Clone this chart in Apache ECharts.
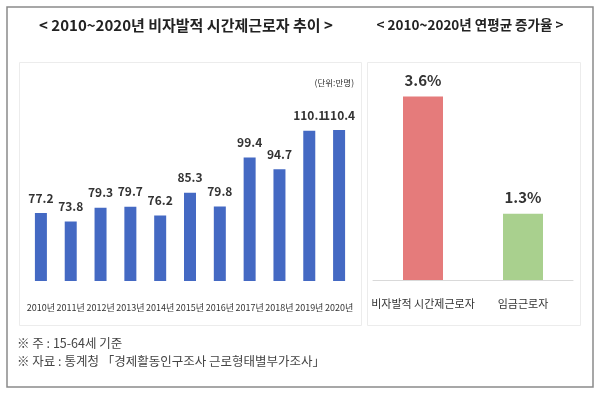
<!DOCTYPE html>
<html><head><meta charset="utf-8">
<script src="https://cdn.jsdelivr.net/npm/echarts@6/dist/echarts.min.js"></script>
<style>html,body{margin:0;padding:0;background:#fff}#c{width:600px;height:394px}</style>
</head><body><div id="c"></div>
<script>
const years = ['2010년','2011년','2012년','2013년','2014년','2015년','2016년','2017년','2018년','2019년','2020년'];
const workers = [77.2, 73.8, 79.3, 79.7, 76.2, 85.3, 79.8, 99.4, 94.7, 110.1, 110.4];
const groups = ['비자발적 시간제근로자', '임금근로자'];
const growth = [3.6, 1.3];
const growthColors = ['#E57B7B', '#A9D08E'];

const KR = "'Noto Sans CJK KR', 'Noto Sans', sans-serif";

const chart = echarts.init(document.getElementById('c'), null, {renderer: 'canvas'});
chart.setOption({
  animation: false,
  backgroundColor: '#fff',
  graphic: [
    {type: 'rect', shape: {x: 7, y: 7, width: 586, height: 380}, style: {fill: 'none', stroke: '#8a8a8a', lineWidth: 1.5}, z: -10},
    {type: 'rect', shape: {x: 19.5, y: 62.5, width: 342, height: 263}, style: {fill: 'none', stroke: '#ececec', lineWidth: 1}, z: -10},
    {type: 'rect', shape: {x: 367.5, y: 62.5, width: 213, height: 263}, style: {fill: 'none', stroke: '#ececec', lineWidth: 1}, z: -10},
    {type: 'text', x: 186, y: 25, style: {text: '< 2010~2020년 비자발적 시간제근로자 추이 >', font: 'bold 15px ' + KR, fill: '#222', textAlign: 'center', textVerticalAlign: 'middle'}},
    {type: 'text', x: 470, y: 25, style: {text: '< 2010~2020년 연평균 증가율 >', font: 'bold 13.5px ' + KR, fill: '#222', textAlign: 'center', textVerticalAlign: 'middle'}},
    {type: 'text', x: 354, y: 83, style: {text: '(단위:만명)', font: '8.5px ' + KR, fill: '#333', textAlign: 'right', textVerticalAlign: 'middle'}},
    {type: 'text', x: 17, y: 343, style: {text: '※ 주 : 15-64세 기준', font: '12.5px ' + KR, fill: '#444', textVerticalAlign: 'middle'}},
    {type: 'text', x: 17, y: 361, style: {text: '※ 자료 : 통계청 「경제활동인구조사 근로형태별부가조사」', font: '12.5px ' + KR, fill: '#444', textVerticalAlign: 'middle'}}
  ],
  grid: [
    {left: 26, width: 328, top: 81, height: 200},
    {left: 373, width: 200, top: 76, height: 204}
  ],
  xAxis: [
    {type: 'category', gridIndex: 0, data: years,
     axisLine: {show: false}, axisTick: {show: false},
     axisLabel: {interval: 0, margin: 22, fontSize: 9, color: '#333', fontFamily: KR}},
    {type: 'category', gridIndex: 1, data: groups,
     axisLine: {show: true, lineStyle: {color: '#d9d9d9', width: 1}}, axisTick: {show: false},
     axisLabel: {interval: 0, margin: 18, fontSize: 11, color: '#333', fontFamily: KR}}
  ],
  yAxis: [
    {type: 'value', gridIndex: 0, min: 50, max: 130, show: false, splitLine: {show: false}},
    {type: 'value', gridIndex: 1, min: 0, max: 4, show: false, splitLine: {show: false}}
  ],
  series: [
    {type: 'bar', xAxisIndex: 0, yAxisIndex: 0, data: workers, barWidth: 12,
     itemStyle: {color: '#4469C3'},
     label: {show: true, position: 'top', distance: 9, fontSize: 12, fontFamily: KR, color: '#333', fontWeight: 'bold'}},
    {type: 'bar', xAxisIndex: 1, yAxisIndex: 1, barWidth: 40,
     data: growth.map((v, i) => ({value: v, itemStyle: {color: growthColors[i]}})),
     label: {show: true, position: 'top', distance: 9, fontSize: 15, fontFamily: KR, color: '#333', fontWeight: 'bold', formatter: p => p.value + '%'}}
  ]
});
</script></body></html>
